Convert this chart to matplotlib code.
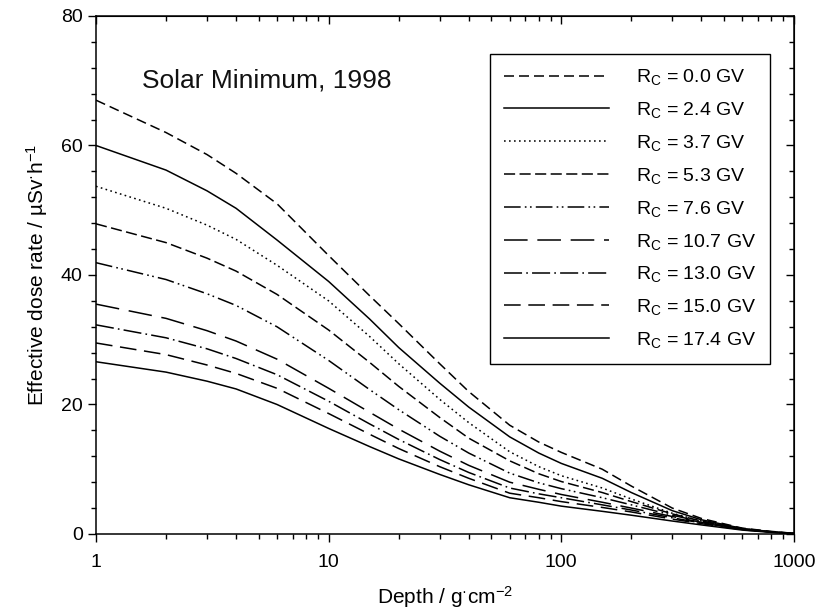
import matplotlib
matplotlib.use("Agg")
import matplotlib.pyplot as plt
from matplotlib.ticker import FixedLocator, LogLocator, NullFormatter, MultipleLocator

plt.rcParams['font.family'] = ['Liberation Sans', 'DejaVu Sans']
plt.rcParams['mathtext.default'] = 'regular'
plt.rcParams['lines.scale_dashes'] = False

# shielding depth (g/cm2)
depth = [1, 2, 3, 4, 6, 10, 15, 20, 30, 40, 60, 80, 100, 150, 200, 300, 400, 600, 800, 1000]

# effective dose rate (uSv/h) for each cutoff rigidity
rc_labels = ['0.0', '2.4', '3.7', '5.3', '7.6', '10.7', '13.0', '15.0', '17.4']
dose_00 = [67.0, 62.0, 58.6, 55.7, 51.0, 43.0, 36.8, 32.5, 26.3, 22.0, 16.8, 14.2, 12.6, 10.0, 7.4, 4.0, 2.4, 0.9, 0.4, 0.1]
dose_24 = [60.0, 56.2, 53.0, 50.3, 45.4, 39.0, 33.2, 28.8, 23.3, 19.6, 15.0, 12.5, 10.9, 8.6, 6.4, 3.6, 2.2, 0.85, 0.35, 0.1]
dose_37 = [53.7, 50.3, 47.7, 45.5, 41.5, 36.0, 30.5, 26.3, 20.8, 17.2, 12.7, 10.4, 9.0, 7.1, 5.4, 3.2, 2.0, 0.8, 0.3, 0.1]
dose_53 = [47.9, 45.0, 42.6, 40.6, 37.0, 31.5, 26.5, 22.8, 18.0, 14.8, 11.3, 9.3, 8.1, 6.4, 5.0, 3.1, 2.0, 0.8, 0.3, 0.1]
dose_76 = [41.9, 39.3, 37.1, 35.3, 32.0, 26.8, 22.3, 19.2, 15.1, 12.5, 9.4, 7.9, 7.0, 5.6, 4.5, 2.9, 1.9, 0.8, 0.3, 0.1]
dose_107 = [35.5, 33.3, 31.4, 29.8, 27.0, 22.5, 18.8, 16.2, 12.8, 10.6, 8.0, 6.9, 6.1, 4.9, 4.0, 2.7, 1.8, 0.75, 0.3, 0.09]
dose_130 = [32.3, 30.3, 28.6, 27.1, 24.6, 20.5, 17.0, 14.6, 11.5, 9.5, 7.1, 6.2, 5.6, 4.5, 3.7, 2.5, 1.7, 0.7, 0.28, 0.09]
dose_150 = [29.5, 27.7, 26.1, 24.8, 22.5, 18.6, 15.4, 13.2, 10.4, 8.6, 6.3, 5.6, 5.0, 4.1, 3.4, 2.3, 1.6, 0.65, 0.27, 0.08]
dose_174 = [26.6, 25.0, 23.6, 22.4, 20.0, 16.3, 13.5, 11.6, 9.2, 7.6, 5.6, 4.9, 4.3, 3.5, 2.9, 2.0, 1.4, 0.6, 0.25, 0.08]

series = [dose_00, dose_24, dose_37, dose_53, dose_76, dose_107, dose_130, dose_150, dose_174]
styles = [
    (0, (7.2, 3.6)),
    '-',
    (0, (1.2, 2.4)),
    (0, (8, 3.2)),
    (0, (12, 3, 1.2, 2.5, 1.2, 3)),
    (0, (17, 7)),
    (0, (13, 3, 1.2, 3)),
    (0, (12, 5.5)),
    '-',
]

fig = plt.figure(figsize=(8.17, 6.13), dpi=100)
ax = fig.add_axes([0.1175, 0.1289, 0.8543, 0.845])

for y, ls, lab in zip(series, styles, rc_labels):
    ax.plot(depth, y, color='black', linestyle=ls, linewidth=1.1,
            label='R$_C$ = ' + lab + ' GV')

ax.set_xscale('log')
ax.set_xlim(1, 1000)
ax.set_ylim(0, 80)
ax.xaxis.set_major_locator(FixedLocator([1, 10, 100, 1000]))
ax.set_xticklabels(['1', '10', '100', '1000'])
ax.xaxis.set_minor_locator(LogLocator(base=10, subs=range(2, 10)))
ax.xaxis.set_minor_formatter(NullFormatter())
ax.yaxis.set_major_locator(MultipleLocator(20))
ax.yaxis.set_minor_locator(MultipleLocator(4))

for s in ax.spines.values():
    s.set_linewidth(1.1)

# bottom/left ticks point outward
ax.tick_params(which='both', direction='out', width=1.0, labelsize=14)
ax.tick_params(which='major', length=5.5)
ax.tick_params(which='minor', length=3.5)
ax.tick_params(axis='x', which='major', pad=9)
ax.tick_params(axis='y', which='major', pad=4)

# top/right ticks point inward
top = ax.secondary_xaxis('top')
top.xaxis.set_major_locator(FixedLocator([1, 10, 100, 1000]))
top.xaxis.set_minor_locator(LogLocator(base=10, subs=range(2, 10)))
top.xaxis.set_major_formatter(NullFormatter())
top.xaxis.set_minor_formatter(NullFormatter())
top.tick_params(which='major', direction='in', length=5.5, width=1.0)
top.tick_params(which='minor', direction='in', length=3.5, width=1.0)

right = ax.secondary_yaxis('right')
right.yaxis.set_major_locator(MultipleLocator(20))
right.yaxis.set_minor_locator(MultipleLocator(4))
right.yaxis.set_major_formatter(NullFormatter())
right.tick_params(which='major', direction='in', length=5.5, width=1.0)
right.tick_params(which='minor', direction='in', length=3.5, width=1.0)

ax.set_xlabel('Depth / g$^{·}$cm$^{-2}$', fontsize=15, labelpad=9)
ax.set_ylabel('Effective dose rate / µSv$^{·}$h$^{-1}$', fontsize=15, labelpad=8)

ax.text(0.245, 0.876, 'Solar Minimum, 1998', transform=ax.transAxes,
        ha='center', va='center', fontsize=19, color='#111111')

leg = ax.legend(loc='upper right', bbox_to_anchor=(0.966, 0.927), fontsize=14,
                frameon=True, fancybox=False, edgecolor='black', framealpha=1,
                handlelength=5.4, handletextpad=1.4, labelspacing=0.66,
                borderpad=0.7, borderaxespad=0)
leg.get_frame().set_linewidth(1.0)

fig.savefig('out.png', dpi=100)
